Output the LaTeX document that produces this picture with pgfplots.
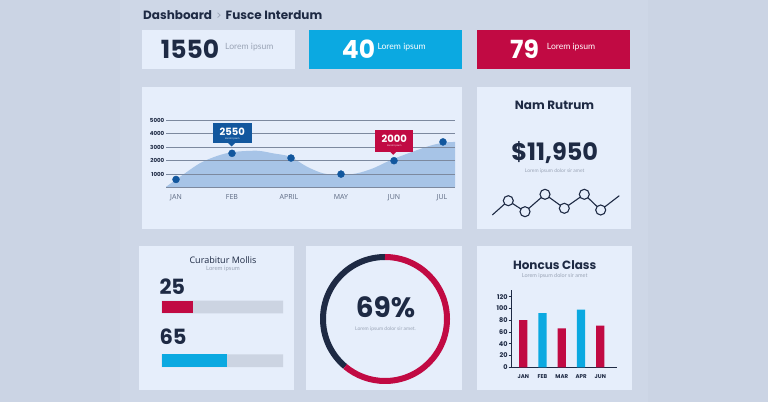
\documentclass[border=0pt]{standalone}
\usepackage{pgfplots}
\pgfplotsset{compat=1.18}
\usepackage{fontspec}
\setmainfont{Open Sans}
\newfontfamily\pop{Poppins}
\newfontfamily\lato{Lato}
\definecolor{bgc}{HTML}{CBD4E4}
\definecolor{bgin}{HTML}{CED7E7}
\definecolor{panel}{HTML}{E6EEFB}
\definecolor{navy}{HTML}{1E2A44}
\definecolor{ccyan}{HTML}{0BA9E1}
\definecolor{crim}{HTML}{C10A43}
\definecolor{dotb}{HTML}{12579E}
\definecolor{areab}{HTML}{A7C4E7}
\definecolor{gridc}{HTML}{7C899F}
\definecolor{trackc}{HTML}{CCD4E2}
\definecolor{greyt}{HTML}{9AA4B6}
\definecolor{labt}{HTML}{5A6780}
\newcommand{\fs}[1]{\fontsize{#1}{#1}\selectfont}
\begin{document}
\begin{tikzpicture}
\begin{scope}[x=1pt,y=1pt]
\useasboundingbox (0,0) rectangle (768,402);
\fill[bgc] (0,0) rectangle (768,402);
\fill[bgin] (120,0) rectangle (648,402);
% panels
\fill[panel] (142,333) rectangle (295,372);
\fill[ccyan] (308.7,333) rectangle (461.7,372);
\fill[crim] (477.3,333) rectangle (630,372);
\fill[panel] (141.7,173) rectangle (462,315.3);
\fill[panel] (476.7,173) rectangle (631,315.3);
\fill[panel] (139,12) rectangle (294.3,156);
\fill[panel] (306,12) rectangle (461.7,156);
\fill[panel] (476.7,12.5) rectangle (632.3,156);
% header
\node[anchor=base west, inner sep=0, text=navy] at (143,382.5) {\pop\bfseries\fs{12}Dashboard\,\,{\mdseries\color{greyt}\fs{10.5}>}\,\,Fusce Interdum};
% KPI boxes
\node[anchor=base west, inner sep=0, text=navy] at (160.7,343.7) {\pop\bfseries\fs{25}1550};
\node[anchor=base west, inner sep=0, text=greyt] at (225,352) {\lato\fs{8.6}Lorem ipsum};
\node[anchor=base west, inner sep=0, text=white] at (341.7,343.7) {\pop\bfseries\fs{25}40};
\node[anchor=base west, inner sep=0, text=white] at (377.3,352) {\lato\fs{8.6}Lorem ipsum};
\node[anchor=base west, inner sep=0, text=white] at (510,343.7) {\pop\bfseries\fs{25}79};
\node[anchor=base west, inner sep=0, text=white] at (546.7,352) {\lato\fs{8.6}Lorem ipsum};
\end{scope}

% line chart: area layer
\begin{axis}[at={(166pt,214.5pt)}, anchor=south west, width=289pt, height=67pt, scale only axis,
  xmin=166, xmax=455, ymin=0, ymax=5000, hide axis, clip=false]
\addplot[fill=areab, draw=none, smooth] coordinates {
 (166,50) (183,955) (200,1816) (217,2353) (233,2647) (257,2743) (273,2550) (290,2300)
 (307,1550) (323,1060) (340,930) (357,1060) (373,1430) (394,2150) (427,3045) (443,3340) (455,3400)} \closedcycle;
\end{axis}
% line chart: grid + dots
\begin{axis}[at={(166pt,214.5pt)}, anchor=south west, width=289pt, height=67pt, scale only axis,
  xmin=166, xmax=455, ymin=0, ymax=5000, axis line style={draw=none}, clip=false,
  ytick={1000,2000,3000,4000,5000}, yticklabels={1000,2000,3000,4000,5000},
  xtick={176,232,289,341,394,442}, xticklabels={JAN,FEB,APRIL,MAY,JUN,JUL},
  major tick length=0pt, ymajorgrids, grid style={gridc, line width=0.8pt},
  extra y ticks={0}, extra y tick labels={}, extra y tick style={grid style={gridc, line width=1.1pt}},
  yticklabel style={font=\pop\bfseries\fs{5.5}, text=navy, inner sep=1.5pt},
  xticklabel style={font=\fs{7}, text=labt, yshift=-3.3pt}]
\addplot[only marks, mark=*, mark size=3.5pt, mark options={fill=dotb, draw=dotb}] coordinates {
 (176,600) (232,2550) (291,2200) (341,1000) (394,2000) (443,3400)};
\end{axis}

\begin{scope}[x=1pt,y=1pt]
% callouts
\fill[dotb] (212.7,258.7) rectangle (251.7,278.7);
\fill[dotb] (228.2,259) -- (235.2,259) -- (231.7,255.5) -- cycle;
\node[text=white, inner sep=0] at (232.2,270.6) {\pop\bfseries\fs{10}2550};
\node[text=white!85!dotb, inner sep=0] at (232.2,263.6) {\lato\fs{2.6}Lorem ipsum};
\fill[crim] (375,250.3) rectangle (413.3,272);
\fill[crim] (389.8,250.6) -- (396.8,250.6) -- (393.3,247.2) -- cycle;
\node[text=white, inner sep=0] at (394.2,263.6) {\pop\bfseries\fs{10}2000};
\node[text=white!85!crim, inner sep=0] at (394.2,256.4) {\lato\fs{2.6}Lorem ipsum};
% Nam Rutrum texts
\node[text=navy, inner sep=0] at (554.5,297) {\pop\bfseries\fs{12}Nam Rutrum};
\node[text=navy, inner sep=0] at (554.7,249) {\pop\bfseries\fs{24}\$11,950};
\node[text=greyt, inner sep=0] at (554.7,231) {\lato\fs{5}Lorem ipsum dolor sir amet};
% Curabitur texts
\node[text=navy, inner sep=0] at (223,142) {\fs{9}Curabitur Mollis};
\node[text=greyt, inner sep=0] at (223,133.5) {\lato\fs{6}Lorem ipsum};
\node[anchor=base west, text=navy, inner sep=0] at (159.3,108) {\pop\bfseries\fs{21}25};
\node[anchor=base west, text=navy, inner sep=0] at (159.3,58) {\pop\bfseries\fs{21}65};
% donut texts
\node[text=navy, inner sep=0] at (385.5,94.5) {\pop\bfseries\fs{28}69\%};
\node[text=greyt, inner sep=0] at (385.5,73) {\lato\fs{5}Lorem ipsum dolor sir amet.};
% Honcus texts
\node[text=navy, inner sep=0] at (554.7,137) {\pop\bfseries\fs{12}Honcus Class};
\node[text=greyt, inner sep=0] at (554.7,125.8) {\lato\fs{5.5}Lorem ipsum dolor sir amet};
\end{scope}

% sparkline
\begin{axis}[at={(480pt,182pt)}, anchor=south west, width=150pt, height=30pt, scale only axis,
  xmin=480, xmax=630, ymin=0, ymax=30, hide axis, clip=false]
\addplot[navy, line width=1.1pt, no marks] coordinates {
 (492.3,5) (508.3,19.3) (525,8.3) (545,25.7) (564.3,11.7) (584.3,25.7) (600.7,10) (619.3,24.3)};
\addplot[only marks, mark=*, mark size=5pt, mark options={fill=panel, draw=navy, line width=1.1pt}] coordinates {
 (508.3,19.3) (525,8.3) (545,25.7) (564.3,11.7) (584.3,25.7) (600.7,10)};
\end{axis}

% Curabitur bars
\begin{axis}[at={(161.7pt,30pt)}, anchor=south west, width=121.3pt, height=80pt, scale only axis,
  xmin=0, xmax=100, ymin=30, ymax=110, hide axis, xbar, bar width=12.7pt, bar shift=0pt]
\addplot[xbar, bar shift=0pt, fill=trackc, draw=none] coordinates {(100,95) (100,41.3)};
\addplot[xbar, bar shift=0pt, fill=crim, draw=none] coordinates {(26,95)};
\addplot[xbar, bar shift=0pt, fill=ccyan, draw=none] coordinates {(54,41.3)};
\end{axis}

% Donut
\begin{axis}[at={(385pt,83pt)}, anchor=center, width=140pt, height=140pt, scale only axis,
  xmin=-70, xmax=70, ymin=-70, ymax=70, hide axis, clip=false]
\draw[navy, line width=6pt] (axis cs:0,62) arc[start angle=90, end angle=230, radius=62pt];
\draw[crim, line width=6pt] (axis cs:0,62) arc[start angle=90, end angle=-130, radius=62pt];
\end{axis}

% Honcus Class
\begin{axis}[at={(511.7pt,34.7pt)}, anchor=south west, width=105pt, height=77.3pt, scale only axis,
  xmin=-0.6, xmax=4.85, ymin=0, ymax=131.4,
  axis x line*=bottom, axis y line*=left, axis line style={navy, line width=0.8pt, -},
  ytick={0,20,40,60,80,100,120}, yticklabels={0,20,40,60,80,100,120},
  xtick={0,1,2,3,4}, xticklabels={JAN,FEB,MAR,APR,JUN},
  tick align=outside, major tick length=3pt, x tick style={draw=none},
  y tick style={navy, line width=0.6pt},
  yticklabel style={font=\pop\bfseries\fs{6.5}, text=navy, inner sep=1pt},
  xticklabel style={font=\pop\bfseries\fs{5.5}, text=navy, yshift=-0.5pt},
  ybar, bar width=8.3pt, bar shift=0pt, clip=false]
\addplot[ybar, bar shift=0pt, fill=crim, draw=none] coordinates {(0,80) (2,66) (4,71)};
\addplot[ybar, bar shift=0pt, fill=ccyan, draw=none] coordinates {(1,92) (3,98)};
\end{axis}
\end{tikzpicture}
\end{document}
